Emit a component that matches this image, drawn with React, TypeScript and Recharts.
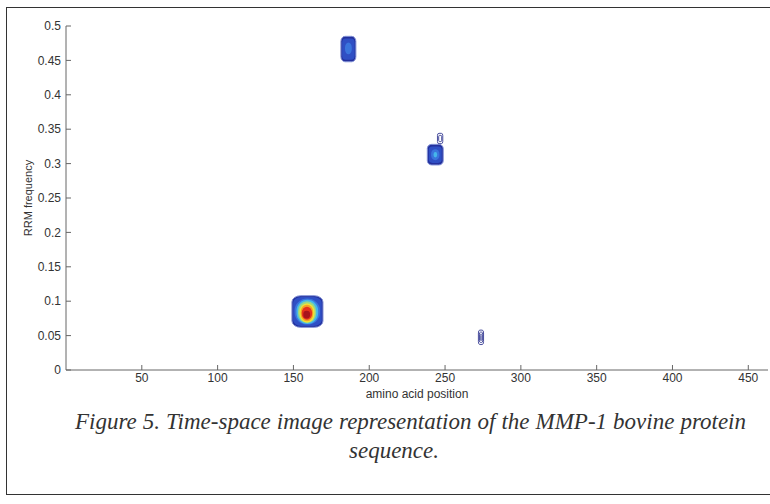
import { ComposedChart, XAxis, YAxis, Scatter, ReferenceArea } from 'recharts'

// axis ticks
const xTicks = [50, 100, 150, 200, 250, 300, 350, 400, 450]
const yTicks = [0, 0.05, 0.1, 0.15, 0.2, 0.25, 0.3, 0.35, 0.4, 0.45, 0.5]

// jet-like colour levels, low -> high
const JET = ['#24309c', '#2f4fc4', '#3a74dc', '#45b6ea', '#96d88a', '#f0e236', '#f4a024', '#e5321c', '#a8141c']

// peak centres (amino acid position, RRM frequency)
const peaks = [
  { pos: 159, freq: 0.082 },
  { pos: 186, freq: 0.467 },
  { pos: 243.5, freq: 0.313 },
  { pos: 273.7, freq: 0.047 },
]

// filled contour levels: [x1, x2, y1, y2, level]
const peak1 = [
  [149, 169.5, 0.062, 0.108, 0],
  [149.8, 168.7, 0.064, 0.106, 1],
  [150.8, 167.5, 0.066, 0.104, 2],
  [152, 166.3, 0.067, 0.102, 3],
  [153, 165, 0.068, 0.1, 4],
  [154, 164, 0.069, 0.097, 5],
  [154.8, 163, 0.071, 0.095, 6],
  [155.5, 162.3, 0.073, 0.092, 7],
  [156.5, 161, 0.075, 0.086, 8],
]
const peak2 = [
  [181.3, 191.2, 0.448, 0.485, 0],
  [182.1, 190.4, 0.451, 0.482, 1],
  [184, 188.5, 0.459, 0.476, 2],
]
const peak3 = [
  [238.3, 248.8, 0.298, 0.328, 0],
  [239.3, 247.8, 0.301, 0.325, 1],
  [240.8, 246.3, 0.305, 0.321, 2],
  [242.4, 244.8, 0.309, 0.317, 3],
]
// contour lines only
const peak3Lines = [
  [245, 248.5, 0.329, 0.344],
  [245.8, 247.8, 0.332, 0.341],
]
const peak4Lines = [
  [272, 275.4, 0.037, 0.058],
  [272.7, 274.8, 0.04, 0.055],
  [273.2, 274.3, 0.043, 0.052],
]

const blob = (props: any, level: number) => {
  const { x, y, width, height, fill, stroke } = props
  const round = level >= 2 ? 0.5 : 0.28
  return (
    <rect x={x} y={y} width={width} height={height} rx={width * round} ry={height * (level >= 2 ? 0.45 : 0.2)}
      fill={fill} stroke={stroke} strokeWidth={1} />
  )
}

const tickStyle = { fill: '#333', fontSize: 12, fontFamily: 'Liberation Sans, Arial, sans-serif' }
const axisColor = '#666'
const caption = { position: 'absolute' as const, fontFamily: 'Liberation Serif, Times New Roman, serif', fontStyle: 'italic', fontSize: 23, lineHeight: '29px', color: '#333', whiteSpace: 'nowrap' as const }

export default function App() {
  const filled = [...peak1, ...peak2, ...peak3]
  return (
    <div style={{ position: 'absolute', left: 0, top: 0, width: 770, height: 504, background: '#fff' }}>
      <div style={{ position: 'absolute', left: 6, top: 7, width: 770, height: 488, border: '1px solid #333', boxSizing: 'border-box' }} />
      <div style={{ position: 'absolute', left: 0, top: 0 }}>
        <ComposedChart width={770} height={410} data={[]} margin={{ top: 26, right: 2, left: 0, bottom: 0 }}>
          <XAxis xAxisId="x" type="number" dataKey="pos" domain={[0, 463]} ticks={xTicks} allowDataOverflow
            tickSize={-5} tickMargin={8} height={40} stroke={axisColor} tick={tickStyle}
            label={{ value: 'amino acid position', position: 'center', dy: 4, fill: '#333', fontSize: 12, fontFamily: 'Liberation Sans, Arial, sans-serif' }} />
          <XAxis xAxisId="xt" orientation="top" type="number" domain={[0, 463]} ticks={xTicks} allowDataOverflow
            tickSize={-5} height={0} stroke={axisColor} tick={false} />
          <YAxis yAxisId="y" type="number" dataKey="freq" domain={[0, 0.5]} ticks={yTicks} allowDataOverflow
            tickSize={-5} tickMargin={10} width={66} stroke={axisColor} tick={tickStyle}
            label={{ value: 'RRM frequency', angle: -90, position: 'center', dx: -5, fill: '#333', fontSize: 11, fontFamily: 'Liberation Sans, Arial, sans-serif' }} />
          <YAxis yAxisId="yr" orientation="right" type="number" domain={[0, 0.5]} ticks={yTicks} allowDataOverflow
            tickSize={-5} width={0} stroke={axisColor} tick={false} />
          {filled.map((c, i) => (
            <ReferenceArea key={'f' + i} xAxisId="x" yAxisId="y" x1={c[0]} x2={c[1]} y1={c[2]} y2={c[3]}
              fill={JET[c[4]]} fillOpacity={1} stroke={c[4] === 0 ? '#8494d8' : 'none'}
              shape={(p: any) => blob(p, c[4])} />
          ))}
          {[...peak3Lines, ...peak4Lines].map((c, i) => (
            <ReferenceArea key={'l' + i} xAxisId="x" yAxisId="y" x1={c[0]} x2={c[1]} y1={c[2]} y2={c[3]}
              fill="none" stroke="#4a4f9e" shape={(p: any) => blob(p, 1)} />
          ))}
          <Scatter xAxisId="x" yAxisId="y" data={peaks} dataKey="freq" isAnimationActive={false} shape={() => <g />} />
        </ComposedChart>
      </div>
      <div style={{ ...caption, left: 75, top: 407, width: 671, textAlign: 'justify', textAlignLast: 'justify' }}>
        Figure 5. Time-space image representation of the MMP-1 bovine protein
      </div>
      <div style={{ ...caption, left: 294, top: 436, width: 200, textAlign: 'center' }}>
        sequence.
      </div>
    </div>
  )
}
